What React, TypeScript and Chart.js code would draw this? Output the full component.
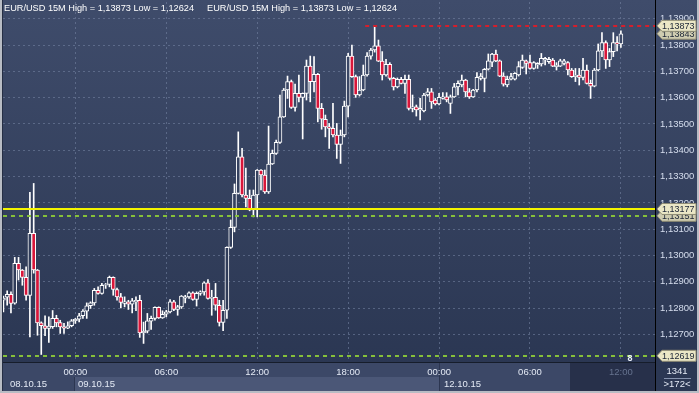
import { useEffect, useRef } from 'react';
import { Chart, registerables } from 'chart.js';

Chart.register(...registerables);

const W = 699;
const H = 393;
const FONT = '"Liberation Sans", Arial, sans-serif';

// x-axis tick labels (candle index -> time)
const timeTickIndex = [19, 43, 67, 91, 115, 139, 163];
const timeTickLabels = ['00:00', '06:00', '12:00', '18:00', '00:00', '06:00', '12:00'];
const dateLabels = ['08.10.15', '09.10.15', '12.10.15'];
const dateStartIndex = [0, 19, 115];

// 15M candles EUR/USD
const open = [
  1.12830, 1.12842, 1.12853, 1.12819, 1.12970, 1.12945, 1.12917, 1.12848, 1.13084, 1.12945,
  1.12744, 1.12733, 1.12723, 1.12730, 1.12761, 1.12745, 1.12729, 1.12724, 1.12733, 1.12752,
  1.12758, 1.12771, 1.12789, 1.12809, 1.12820, 1.12868, 1.12856, 1.12887, 1.12890, 1.12917,
  1.12871, 1.12843, 1.12818, 1.12824, 1.12815, 1.12824, 1.12830, 1.12706, 1.12713, 1.12751,
  1.12761, 1.12803, 1.12763, 1.12777, 1.12786, 1.12824, 1.12795, 1.12805, 1.12838, 1.12843,
  1.12858, 1.12833, 1.12856, 1.12862, 1.12896, 1.12837, 1.12841, 1.12811, 1.12746, 1.12792,
  1.13031, 1.13107, 1.13236, 1.13375, 1.13230, 1.13217, 1.13173, 1.13230, 1.13325, 1.13306,
  1.13242, 1.13348, 1.13388, 1.13430, 1.13527, 1.13629, 1.13661, 1.13563, 1.13616, 1.13601,
  1.13616, 1.13720, 1.13661, 1.13689, 1.13559, 1.13518, 1.13489, 1.13483, 1.13458, 1.13422,
  1.13458, 1.13568, 1.13758, 1.13680, 1.13610, 1.13629, 1.13686, 1.13758, 1.13781, 1.13797,
  1.13739, 1.13686, 1.13727, 1.13673, 1.13641, 1.13670, 1.13654, 1.13670, 1.13559, 1.13565,
  1.13553, 1.13550, 1.13610, 1.13622, 1.13591, 1.13576, 1.13597, 1.13603, 1.13578, 1.13603,
  1.13641, 1.13648, 1.13667, 1.13622, 1.13603, 1.13629, 1.13673, 1.13673, 1.13708, 1.13735,
  1.13766, 1.13740, 1.13682, 1.13648, 1.13670, 1.13670, 1.13686, 1.13715, 1.13740, 1.13733,
  1.13711, 1.13724, 1.13728, 1.13743, 1.13737, 1.13743, 1.13718, 1.13720, 1.13730, 1.13733,
  1.13705, 1.13680, 1.13686, 1.13677, 1.13705, 1.13654, 1.13644, 1.13705, 1.13778, 1.13809,
  1.13743, 1.13775, 1.13809, 1.13804,
];
const high = [
  1.12846, 1.12866, 1.12862, 1.12993, 1.12993, 1.12947, 1.12957, 1.13240, 1.13274, 1.12947,
  1.12748, 1.12771, 1.12767, 1.12791, 1.12773, 1.12754, 1.12742, 1.12748, 1.12757, 1.12761,
  1.12780, 1.12795, 1.12820, 1.12824, 1.12875, 1.12881, 1.12894, 1.12894, 1.12922, 1.12919,
  1.12876, 1.12856, 1.12843, 1.12830, 1.12837, 1.12843, 1.12849, 1.12747, 1.12780, 1.12770,
  1.12805, 1.12805, 1.12790, 1.12792, 1.12833, 1.12830, 1.12811, 1.12848, 1.12849, 1.12862,
  1.12862, 1.12862, 1.12866, 1.12900, 1.12909, 1.12868, 1.12894, 1.12830, 1.12830, 1.13033,
  1.13135, 1.13272, 1.13470, 1.13407, 1.13332, 1.13249, 1.13249, 1.13327, 1.13327, 1.13325,
  1.13492, 1.13401, 1.13439, 1.13610, 1.13635, 1.13682, 1.13667, 1.13652, 1.13686, 1.13618,
  1.13743, 1.13758, 1.13756, 1.13692, 1.13578, 1.13534, 1.13502, 1.13578, 1.13502, 1.13477,
  1.13587, 1.13768, 1.13800, 1.13686, 1.13680, 1.13724, 1.13771, 1.13787, 1.13873, 1.13819,
  1.13775, 1.13746, 1.13733, 1.13677, 1.13675, 1.13677, 1.13686, 1.13686, 1.13610, 1.13572,
  1.13597, 1.13616, 1.13635, 1.13635, 1.13597, 1.13616, 1.13619, 1.13619, 1.13610, 1.13654,
  1.13664, 1.13686, 1.13670, 1.13635, 1.13632, 1.13695, 1.13692, 1.13711, 1.13766, 1.13768,
  1.13781, 1.13743, 1.13695, 1.13682, 1.13692, 1.13695, 1.13737, 1.13762, 1.13743, 1.13762,
  1.13737, 1.13733, 1.13768, 1.13753, 1.13753, 1.13749, 1.13733, 1.13746, 1.13746, 1.13737,
  1.13711, 1.13711, 1.13711, 1.13749, 1.13724, 1.13667, 1.13711, 1.13804, 1.13847, 1.13816,
  1.13787, 1.13847, 1.13832, 1.13854,
];
const low = [
  1.12786, 1.12811, 1.12782, 1.12815, 1.12907, 1.12887, 1.12830, 1.12691, 1.12933, 1.12697,
  1.12624, 1.12695, 1.12670, 1.12723, 1.12729, 1.12704, 1.12704, 1.12722, 1.12729, 1.12742,
  1.12748, 1.12761, 1.12761, 1.12799, 1.12811, 1.12853, 1.12853, 1.12875, 1.12881, 1.12849,
  1.12830, 1.12801, 1.12805, 1.12795, 1.12782, 1.12790, 1.12689, 1.12666, 1.12706, 1.12719,
  1.12754, 1.12761, 1.12761, 1.12767, 1.12782, 1.12790, 1.12773, 1.12799, 1.12820, 1.12837,
  1.12830, 1.12808, 1.12849, 1.12849, 1.12834, 1.12773, 1.12792, 1.12732, 1.12714, 1.12761,
  1.13027, 1.13090, 1.13234, 1.13223, 1.13185, 1.13170, 1.13147, 1.13147, 1.13249, 1.13236,
  1.13236, 1.13346, 1.13384, 1.13426, 1.13525, 1.13597, 1.13559, 1.13549, 1.13584, 1.13443,
  1.13591, 1.13584, 1.13622, 1.13508, 1.13480, 1.13451, 1.13407, 1.13451, 1.13369, 1.13350,
  1.13451, 1.13527, 1.13677, 1.13601, 1.13606, 1.13626, 1.13682, 1.13746, 1.13773, 1.13737,
  1.13667, 1.13682, 1.13667, 1.13629, 1.13637, 1.13652, 1.13616, 1.13553, 1.13546, 1.13530,
  1.13515, 1.13546, 1.13606, 1.13559, 1.13572, 1.13572, 1.13594, 1.13584, 1.13540, 1.13601,
  1.13610, 1.13641, 1.13603, 1.13597, 1.13601, 1.13622, 1.13667, 1.13622, 1.13705, 1.13718,
  1.13737, 1.13680, 1.13644, 1.13641, 1.13667, 1.13667, 1.13682, 1.13711, 1.13690, 1.13708,
  1.13708, 1.13711, 1.13720, 1.13724, 1.13730, 1.13718, 1.13705, 1.13718, 1.13724, 1.13686,
  1.13677, 1.13661, 1.13648, 1.13667, 1.13652, 1.13597, 1.13641, 1.13702, 1.13756, 1.13711,
  1.13718, 1.13756, 1.13778, 1.13791,
];
const close = [
  1.12838, 1.12853, 1.12818, 1.12970, 1.12945, 1.12917, 1.12848, 1.13084, 1.12945, 1.12744,
  1.12733, 1.12723, 1.12732, 1.12761, 1.12744, 1.12729, 1.12724, 1.12733, 1.12752, 1.12758,
  1.12771, 1.12789, 1.12809, 1.12820, 1.12868, 1.12856, 1.12887, 1.12890, 1.12917, 1.12871,
  1.12843, 1.12822, 1.12824, 1.12815, 1.12828, 1.12830, 1.12706, 1.12713, 1.12752, 1.12761,
  1.12803, 1.12763, 1.12777, 1.12786, 1.12824, 1.12795, 1.12805, 1.12846, 1.12843, 1.12858,
  1.12833, 1.12856, 1.12862, 1.12896, 1.12837, 1.12841, 1.12811, 1.12746, 1.12792, 1.13031,
  1.13107, 1.13236, 1.13375, 1.13230, 1.13217, 1.13173, 1.13230, 1.13325, 1.13306, 1.13242,
  1.13348, 1.13388, 1.13430, 1.13527, 1.13629, 1.13661, 1.13563, 1.13616, 1.13601, 1.13616,
  1.13720, 1.13661, 1.13689, 1.13559, 1.13518, 1.13489, 1.13483, 1.13458, 1.13422, 1.13458,
  1.13568, 1.13758, 1.13680, 1.13610, 1.13629, 1.13686, 1.13758, 1.13781, 1.13797, 1.13739,
  1.13686, 1.13727, 1.13673, 1.13641, 1.13670, 1.13654, 1.13670, 1.13559, 1.13565, 1.13553,
  1.13559, 1.13610, 1.13622, 1.13584, 1.13576, 1.13601, 1.13603, 1.13591, 1.13603, 1.13641,
  1.13654, 1.13667, 1.13622, 1.13603, 1.13629, 1.13677, 1.13682, 1.13708, 1.13740, 1.13766,
  1.13740, 1.13682, 1.13651, 1.13670, 1.13680, 1.13692, 1.13718, 1.13743, 1.13730, 1.13711,
  1.13733, 1.13730, 1.13749, 1.13749, 1.13746, 1.13720, 1.13724, 1.13740, 1.13740, 1.13705,
  1.13680, 1.13686, 1.13677, 1.13705, 1.13654, 1.13644, 1.13705, 1.13778, 1.13809, 1.13743,
  1.13775, 1.13809, 1.13804, 1.13843,
];

// horizontal levels
const highLevel = 1.13873;
const lastPrice = 1.13843;
const yellowLevel = 1.13177;
const greenLevel = 1.13151;
const lowLevel = 1.12619;
const highLineStart = 95.5;
const titleText = 'EUR/USD 15M High = 1,13873 Low = 1,12624';
const barsTotal = '1341';
const barsVisible = '>172<';
const markerText = '8';

const Y_MIN = 1.125954;
const Y_MAX = 1.139635;
const X_MIN = -0.1;
const X_MAX = 172;
const SESSION_START = 149.6;

const RED = '#d8163a';
const GRID = 'rgba(120,134,166,0.55)';

function makeBg(ctx: CanvasRenderingContext2D) {
  const g = ctx.createLinearGradient(0, 0, 0, 362);
  g.addColorStop(0, '#3f4c6b');
  g.addColorStop(1, '#2b3753');
  return g;
}

const fmt = (v: number) => v.toFixed(5).replace('.', ',');

function drawTag(ctx: CanvasRenderingContext2D, y: number, text: string, fill: string) {
  const x0 = 657;
  const h = 11;
  const x1 = 696;
  ctx.beginPath();
  ctx.moveTo(x0, y);
  ctx.lineTo(x0 + 5, y - h / 2);
  ctx.lineTo(x1, y - h / 2);
  ctx.lineTo(x1, y + h / 2);
  ctx.lineTo(x0 + 5, y + h / 2);
  ctx.closePath();
  ctx.fillStyle = fill;
  ctx.fill();
  ctx.strokeStyle = '#8f8c74';
  ctx.lineWidth = 1;
  ctx.stroke();
  ctx.fillStyle = '#1b2536';
  ctx.font = `9px ${FONT}`;
  ctx.textAlign = 'left';
  ctx.textBaseline = 'middle';
  ctx.fillText(text, x0 + 5, y + 0.5);
}

const zeroPad = (s: any) => {
  s.paddingTop = 0;
  s.paddingBottom = 0;
  s.paddingLeft = 0;
  s.paddingRight = 0;
};

const decoPlugin = {
  id: 'deco',
  beforeDraw(chart: any) {
    const { ctx, chartArea: a, scales } = chart;
    const xs = scales.x;
    ctx.save();
    ctx.fillStyle = makeBg(ctx);
    ctx.fillRect(0, 0, W, H);
    // bottom axis area
    ctx.fillStyle = '#3c4867';
    ctx.fillRect(0, a.bottom, a.right, H - a.bottom);
    const b1 = Math.round(xs.getPixelForValue(dateStartIndex[1])) - 1;
    const b2 = Math.round(xs.getPixelForValue(dateStartIndex[2]));
    ctx.fillStyle = '#4b5777';
    ctx.fillRect(b1, 377, b2 - b1, 14);
    const s = Math.round(xs.getPixelForValue(SESSION_START));
    ctx.fillStyle = '#27304a';
    ctx.fillRect(s, a.bottom + 1, a.right - s, H - a.bottom - 3);
    ctx.fillStyle = '#2c3651';
    ctx.fillRect(b1, 377, 1, 14);
    ctx.fillRect(b2, 363, 1, 28);
    ctx.restore();
  },
  afterDatasetsDraw(chart: any) {
    const { ctx, chartArea: a, scales } = chart;
    const xs = scales.x;
    const ys = scales.y;
    ctx.save();
    ctx.beginPath();
    ctx.rect(a.left, a.top, a.right - a.left, a.bottom - a.top);
    ctx.clip();
    const line = (v: number, x0: number, color: string, dash: number[]) => {
      const y = Math.round(ys.getPixelForValue(v));
      ctx.beginPath();
      ctx.setLineDash(dash);
      ctx.strokeStyle = color;
      ctx.lineWidth = 2;
      ctx.moveTo(x0, y);
      ctx.lineTo(a.right, y);
      ctx.stroke();
    };
    line(greenLevel, a.left, '#86c03a', [4, 4]);
    line(lowLevel, a.left, '#86c03a', [4, 4]);
    line(yellowLevel, a.left, '#f4f400', []);
    line(highLevel, xs.getPixelForValue(highLineStart), '#d41f2c', [4, 4]);
    ctx.setLineDash([]);
    ctx.restore();
  },
  afterDraw(chart: any) {
    const { ctx, chartArea: a, scales } = chart;
    const xs = scales.x;
    const ys = scales.y;
    ctx.save();
    // frame lines
    ctx.fillStyle = '#161d2b';
    ctx.fillRect(a.left, a.bottom, a.right - a.left, 1);
    ctx.fillStyle = '#000000';
    ctx.fillRect(a.right, 0, 1, H - 2);
    ctx.fillStyle = '#b8bcc4';
    ctx.fillRect(0, 0, 2, H);
    ctx.fillRect(0, H - 2, W, 2);
    ctx.fillRect(W - 2, 0, 2, H);
    ctx.fillStyle = '#252e44';
    ctx.fillRect(2, 0, 1, H - 2);

    // tags
    drawTag(ctx, ys.getPixelForValue(lastPrice), fmt(lastPrice), '#cfccb0');
    drawTag(ctx, ys.getPixelForValue(highLevel), fmt(highLevel), '#ebe7c6');
    drawTag(ctx, ys.getPixelForValue(greenLevel), fmt(greenLevel), '#cfccb0');
    drawTag(ctx, ys.getPixelForValue(yellowLevel), fmt(yellowLevel), '#ebe7c6');
    drawTag(ctx, ys.getPixelForValue(lowLevel), fmt(lowLevel), '#ebe7c6');

    // title
    ctx.fillStyle = '#ffffff';
    ctx.font = `9.2px ${FONT}`;
    ctx.textAlign = 'left';
    ctx.textBaseline = 'middle';
    ctx.fillText(titleText, 4, 8);
    ctx.fillText(titleText, 207, 8);

    // marker
    ctx.fillStyle = '#e8eef8';
    ctx.font = `bold 9px ${FONT}`;
    ctx.textAlign = 'center';
    ctx.fillText(markerText, 630, 359);

    // date labels
    ctx.font = `9.5px ${FONT}`;
    ctx.fillStyle = '#e4eaf5';
    ctx.textAlign = 'left';
    ctx.fillText(dateLabels[0], 10, 384.5);
    ctx.fillText(dateLabels[1], Math.round(xs.getPixelForValue(dateStartIndex[1])) + 3, 384.5);
    ctx.fillText(dateLabels[2], Math.round(xs.getPixelForValue(dateStartIndex[2])) + 5, 384.5);

    // right footer
    ctx.textAlign = 'center';
    ctx.fillText(barsTotal, 677, 371.5);
    ctx.fillText(barsVisible, 677, 384.5);
    ctx.fillStyle = '#8592ad';
    ctx.fillRect(664, 378, 27, 1);
    ctx.restore();
  },
};

export default function App() {
  const ref = useRef<HTMLCanvasElement | null>(null);
  useEffect(() => {
    if (!ref.current) return;
    const bodies = open.map((o, i) => ({ x: i, y: [o, close[i]] }));
    const wicks = open.map((_, i) => ({ x: i, y: [low[i], high[i]] }));
    const chart = new Chart(ref.current, {
      type: 'bar',
      data: {
        datasets: [
          {
            label: 'wick',
            data: wicks as any,
            backgroundColor: '#ffffff',
            borderWidth: 0,
            barThickness: 1,
            grouped: false,
            order: 2,
          } as any,
          {
            label: 'body',
            data: bodies as any,
            backgroundColor: (c: any) => {
              const i = c.dataIndex;
              if (i === undefined) return RED;
              return close[i] < open[i] ? RED : makeBg(c.chart.ctx);
            },
            borderColor: '#ffffff',
            borderWidth: 1,
            borderSkipped: false,
            barThickness: 4,
            grouped: false,
            order: 1,
          } as any,
        ],
      },
      options: {
        responsive: false,
        animation: false,
        devicePixelRatio: 1,
        events: [],
        layout: { padding: { left: 3, top: 2, right: 0, bottom: 0 } },
        plugins: { legend: { display: false }, tooltip: { enabled: false } },
        scales: {
          x: {
            type: 'linear',
            position: 'bottom',
            min: X_MIN,
            max: X_MAX,
            offset: false,
            afterBuildTicks: (s: any) => {
              s.ticks = timeTickIndex.map((v) => ({ value: v }));
            },
            afterFit: (s: any) => {
              s.height = 31;
              zeroPad(s);
            },
            ticks: {
              autoSkip: false,
              maxRotation: 0,
              padding: 5,
              font: { family: FONT, size: 9.5 },
              color: (c: any) => (c.index === timeTickLabels.length - 1 ? '#66738f' : '#e4eaf5'),
              callback: (_v: any, i: number) => timeTickLabels[i] ?? '',
            },
            grid: { color: GRID, drawTicks: false, offset: false },
            border: { display: false, dash: [2, 3] },
          },
          y: {
            type: 'linear',
            position: 'right',
            min: Y_MIN,
            max: Y_MAX,
            afterFit: (s: any) => {
              s.width = 44;
              zeroPad(s);
            },
            ticks: {
              stepSize: 0.001,
              maxTicksLimit: 30,
              includeBounds: false,
              padding: 5,
              font: { family: FONT, size: 9.5 },
              color: '#d6deee',
              callback: (v: any) => (v < 1.1265 ? null : fmt(Number(v))),
            },
            grid: { color: GRID, drawTicks: false },
            border: { display: false, dash: [2, 3] },
          },
        },
      } as any,
      plugins: [decoPlugin],
    });
    return () => chart.destroy();
  }, []);
  return (
    <div style={{ position: 'fixed', left: 0, top: 0, width: W, height: H }}>
      <canvas ref={ref} width={W} height={H} style={{ display: 'block', width: W, height: H }} />
    </div>
  );
}
